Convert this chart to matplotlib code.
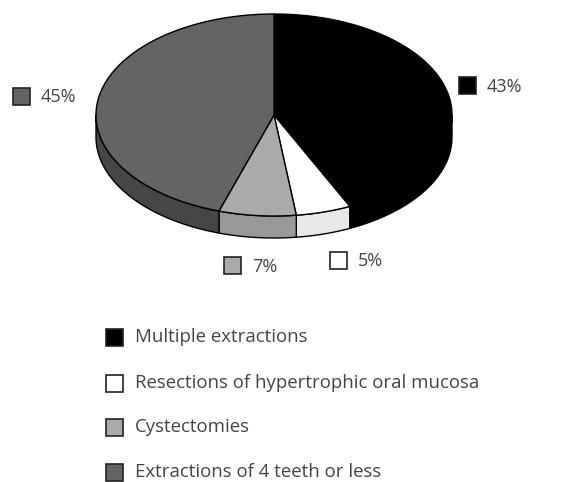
import numpy as np
import matplotlib.pyplot as plt
from matplotlib.patches import Polygon, Rectangle

# Data
categories = ["Multiple extractions", "Resections of hypertrophic oral mucosa",
              "Cystectomies", "Extractions of 4 teeth or less"]
shares = [43, 5, 7, 45]
top_colors = ["#000000", "#ffffff", "#aaaaaa", "#646464"]
side_colors = ["#000000", "#e8e8e8", "#999999", "#464646"]

# Layout (pixels, y pointing down)
cx, cy = 274, 115
rx, ry = 178, 101
depth = 22
label_pos = [(459, 77), (330, 252), (224, 257), (13, 88)]
legend_y = [337, 383, 427, 472]
sq = 17
font = "Open Sans"
txtcol = "#444444"


def arc(t0, t1, dy=0.0, n=120):
    t = np.radians(np.linspace(t0, t1, n))
    return np.column_stack([cx + rx*np.sin(t), cy - ry*np.cos(t) + dy])


fig = plt.figure(figsize=(5.8, 4.82), dpi=100)
ax = fig.add_axes([0, 0, 1, 1])
ax.set_xlim(0, 580)
ax.set_ylim(482, 0)
ax.axis("off")

total = float(sum(shares))
bounds = np.concatenate([[0], np.cumsum(shares)]) / total * 360.

# Side walls (only the front half, 90..270 deg clockwise from top)
for i in range(len(shares)):
    a0, a1 = max(bounds[i], 90), min(bounds[i+1], 270)
    if a1 <= a0:
        continue
    top = arc(a0, a1)
    bot = arc(a0, a1, depth)[::-1]
    ax.add_patch(Polygon(np.vstack([top, bot]), closed=True,
                         facecolor=side_colors[i], edgecolor="black", lw=1.0))

# Top faces
for i in range(len(shares)):
    pts = np.vstack([[cx, cy], arc(bounds[i], bounds[i+1])])
    ax.add_patch(Polygon(pts, closed=True, facecolor=top_colors[i],
                         edgecolor="black", lw=1.0))

# Percentage labels
for i, (x, y) in enumerate(label_pos):
    ax.add_patch(Rectangle((x, y), sq, sq, facecolor=top_colors[i],
                           edgecolor="#222222", lw=1.2))
    ax.text(x + sq + 11, y + sq/2 + 1, f"{shares[i]}%", fontsize=13,
            family=font, color=txtcol, va="center", ha="left")

# Legend
for i, y in enumerate(legend_y):
    ax.add_patch(Rectangle((106, y - sq/2), sq, sq, facecolor=top_colors[i],
                           edgecolor="#222222", lw=1.2))
    ax.text(135, y, categories[i], fontsize=13.4, family=font,
            color=txtcol, va="center", ha="left")

fig.savefig("out.png", dpi=100)
